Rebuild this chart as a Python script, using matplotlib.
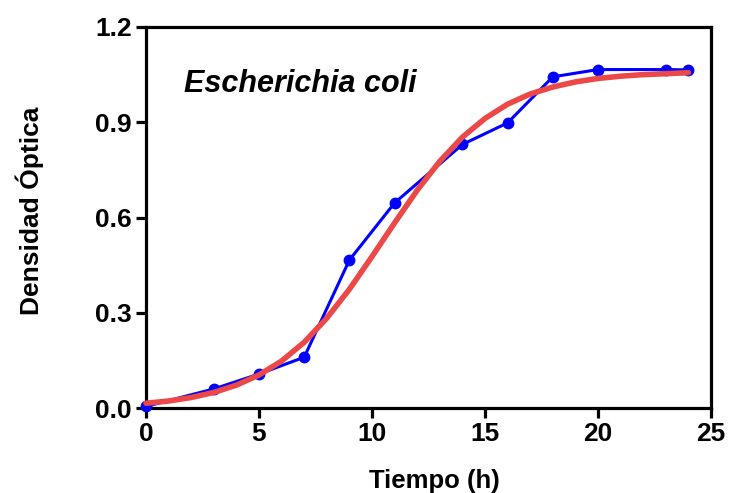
import matplotlib
matplotlib.use("Agg")
import matplotlib.pyplot as plt

# measured optical density (blue)
tiempo = [0, 3, 5, 7, 9, 11, 14, 16, 18, 20, 23, 24]
densidad = [0.005, 0.06, 0.107, 0.16, 0.466, 0.646, 0.83, 0.898, 1.043, 1.066, 1.066, 1.065]

# fitted growth curve (red), read hour by hour
t_ajuste = list(range(0, 25))
d_ajuste = [0.015, 0.022, 0.033, 0.049, 0.072, 0.104, 0.148, 0.207, 0.283, 0.374,
            0.477, 0.583, 0.686, 0.777, 0.853, 0.912, 0.957, 0.989, 1.011, 1.027,
            1.038, 1.045, 1.050, 1.053, 1.056]

x_ticks = [0, 5, 10, 15, 20, 25]
y_ticks = [0.0, 0.3, 0.6, 0.9, 1.2]

plt.rcParams['font.family'] = ['Liberation Sans', 'DejaVu Sans']

fig = plt.figure(figsize=(7.29, 4.93), dpi=100)
ax = fig.add_axes([146/729, 1 - 408/493, (711-146)/729, (408-27)/493])

ax.plot(tiempo, densidad, color='#0000ff', lw=2.2, marker='o', ms=7.5,
        clip_on=False, zorder=3)
ax.plot(t_ajuste, d_ajuste, color='#ec4848', lw=4, solid_joinstyle='round',
        solid_capstyle='round', clip_on=False, zorder=4)

ax.set_xlim(0, 25)
ax.set_ylim(0, 1.2)
ax.set_xticks(x_ticks)
ax.set_yticks(y_ticks)
ax.set_xticklabels([str(v) for v in x_ticks])
ax.set_yticklabels(['%.1f' % v for v in y_ticks])

for s in ax.spines.values():
    s.set_linewidth(2.3)
ax.tick_params(direction='out', length=7, width=2.3, labelsize=19, pad=3)
for lab in ax.get_xticklabels() + ax.get_yticklabels():
    lab.set_fontweight('bold')

ax.set_xlabel('Tiempo (h)', fontsize=18.5, fontweight='bold')
ax.xaxis.set_label_coords(0.51, -0.16)
ax.set_ylabel('Densidad Óptica', fontsize=19, fontweight='bold')
ax.yaxis.set_label_coords(-0.18, 0.517)

ax.text(1.7, 1.02, 'Escherichia coli', fontsize=22, fontweight='bold',
        fontstyle='italic', va='center', ha='left')

fig.savefig('out.png', dpi=100)
